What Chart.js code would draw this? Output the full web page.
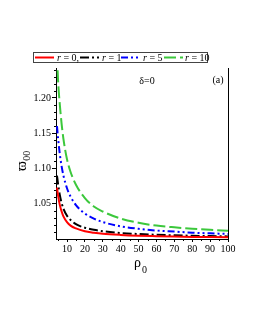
<!DOCTYPE html>
<html><head><meta charset="utf-8">
<script src="https://cdn.jsdelivr.net/npm/chart.js@4/dist/chart.umd.min.js"></script>
<style>html,body{margin:0;padding:0;background:#fff}#wrap{width:255px;height:330px}</style>
</head><body><div id="wrap"><canvas id="c" width="255" height="330"></canvas></div>
<script>
const rho = [4.4, 5, 6, 7, 8, 10, 12, 15, 20, 25, 30, 40, 50, 60, 70, 80, 90, 100];
const r0  = [1.073,1.062,1.048,1.039,1.032,1.024,1.019,1.015,1.011,1.009,1.0075,1.0058,1.0047,1.004,1.0034,1.003,1.0027,1.0024];
const r1  = [1.090,1.078,1.062,1.051,1.043,1.033,1.027,1.021,1.016,1.013,1.011,1.0085,1.007,1.006,1.0052,1.0046,1.0041,1.0037];
const r5  = [1.160,1.143,1.120,1.103,1.090,1.072,1.060,1.048,1.036,1.029,1.024,1.018,1.0145,1.012,1.0105,1.009,1.008,1.0072];
const r10 = [1.262,1.225,1.190,1.163,1.142,1.113,1.095,1.077,1.058,1.046,1.039,1.029,1.023,1.019,1.0165,1.0145,1.013,1.0118];
const seriesNames = ['r = 0,', 'r = 1', 'r = 5', 'r = 10'];
const xTicks = [10,20,30,40,50,60,70,80,90,100];
const xMinor = [5,15,25,35,45,55,65,75,85,95];
const yTicks = [1.05,1.10,1.15,1.20];
const yMinor = [1.01,1.02,1.03,1.04,1.06,1.07,1.08,1.09,1.11,1.12,1.13,1.14,1.16,1.17,1.18,1.19,1.21,1.22,1.23,1.24];

const colors = ['#ff0000','#000000','#0000ff','#3cc83c'];
const dashes = [[], [9,3,2,3], [7,3,2,3,2,3], [12,4]];
const vals = [r0, r1, r5, r10];
const SERIF = '"Liberation Serif","DejaVu Serif",serif';

const datasets = vals.map((v,i)=>({
  label: seriesNames[i],
  data: rho.map((x,j)=>({x:x, y:v[j]})),
  borderColor: colors[i], borderWidth: 2, borderDash: dashes[i],
  pointRadius: 0, tension: 0.4, cubicInterpolationMode: 'monotone', fill: false
}));

const deco = {
  id: 'deco',
  afterDraw(chart) {
    const ctx = chart.ctx, a = chart.chartArea, xs = chart.scales.x, ys = chart.scales.y;
    ctx.save();
    ctx.strokeStyle = '#000'; ctx.lineWidth = 1;
    ctx.beginPath(); ctx.moveTo(a.right+0.5, a.top); ctx.lineTo(a.right+0.5, a.bottom+0.5); ctx.stroke();
    ctx.beginPath();
    yMinor.forEach(v=>{ const y = Math.round(ys.getPixelForValue(v))+0.5; ctx.moveTo(a.left-2, y); ctx.lineTo(a.left, y); });
    xMinor.forEach(v=>{ const x = Math.round(xs.getPixelForValue(v))+0.5; ctx.moveTo(x, a.bottom); ctx.lineTo(x, a.bottom+2); });
    ctx.stroke();
    ctx.fillStyle = '#000';
    ctx.font = '10px ' + SERIF; ctx.textBaseline = 'middle'; ctx.textAlign = 'center';
    ctx.fillText('δ=0', 147, 81);
    ctx.fillText('(a)', 218, 80);
    ctx.font = '14px ' + SERIF; ctx.textAlign = 'left'; ctx.textBaseline = 'alphabetic';
    ctx.fillText('ρ', 134, 267);
    ctx.font = '10px ' + SERIF; ctx.fillText('0', 142, 273);
    ctx.save(); ctx.translate(26, 171); ctx.rotate(-Math.PI/2);
    ctx.font = '15px ' + SERIF; ctx.fillText('ϖ', 0, 0);
    const ww = ctx.measureText('ϖ').width;
    ctx.font = '10px ' + SERIF; ctx.fillText('00', ww + 0.5, 4);
    ctx.restore();
    ctx.strokeStyle = '#444'; ctx.lineWidth = 1;
    ctx.strokeRect(33.5, 52.5, 174, 10);
    const lx = [35, 80, 121, 164], tx = [57, 102, 143, 185];
    ctx.font = '10px ' + SERIF; ctx.textBaseline = 'middle'; ctx.textAlign = 'left';
    for (let i=0;i<4;i++){
      ctx.strokeStyle = colors[i]; ctx.lineWidth = 2; ctx.setLineDash(dashes[i]);
      ctx.beginPath(); ctx.moveTo(lx[i], 57.5); ctx.lineTo(lx[i]+19, 57.5); ctx.stroke();
      ctx.setLineDash([]);
      ctx.fillStyle = '#000';
      const parts = seriesNames[i].split(' ');
      ctx.font = 'italic 10px ' + SERIF; ctx.fillText(parts[0], tx[i], 58);
      const w = ctx.measureText(parts[0]+' ').width;
      ctx.font = '10px ' + SERIF; ctx.fillText(parts.slice(1).join(' '), tx[i]+w, 58);
    }
    ctx.restore();
  }
};

new Chart(document.getElementById('c'), {
  type: 'line',
  data: { datasets },
  plugins: [deco],
  options: {
    responsive: false, animation: false, devicePixelRatio: 1,
    layout: { padding: { top: 68, right: 27, left: 0, bottom: 0 } },
    plugins: { legend: { display: false }, tooltip: { enabled: false } },
    scales: {
      x: {
        type: 'linear', min: 3.85, max: 100,
        afterBuildTicks: s => { s.ticks = xTicks.map(v=>({value:v})); },
        afterFit: s => { s.height = 91; },
        grid: { display: true, drawOnChartArea: false, tickLength: 3, color: '#000' },
        border: { display: true, color: '#000', width: 1 },
        ticks: { color: '#000', font: { family: SERIF, size: 10 }, padding: 1, maxRotation: 0, autoSkip: false }
      },
      y: {
        type: 'linear', min: 1.0, max: 1.2425,
        afterBuildTicks: s => { s.ticks = yTicks.map(v=>({value:v})); },
        afterFit: s => { s.width = 56; },
        grid: { display: true, drawOnChartArea: false, tickLength: 4, color: '#000' },
        border: { display: true, color: '#000', width: 1 },
        ticks: { color: '#000', font: { family: SERIF, size: 10 }, padding: 1, autoSkip: false,
                 callback: v => v.toFixed(2) }
      }
    }
  }
});
</script></body></html>
